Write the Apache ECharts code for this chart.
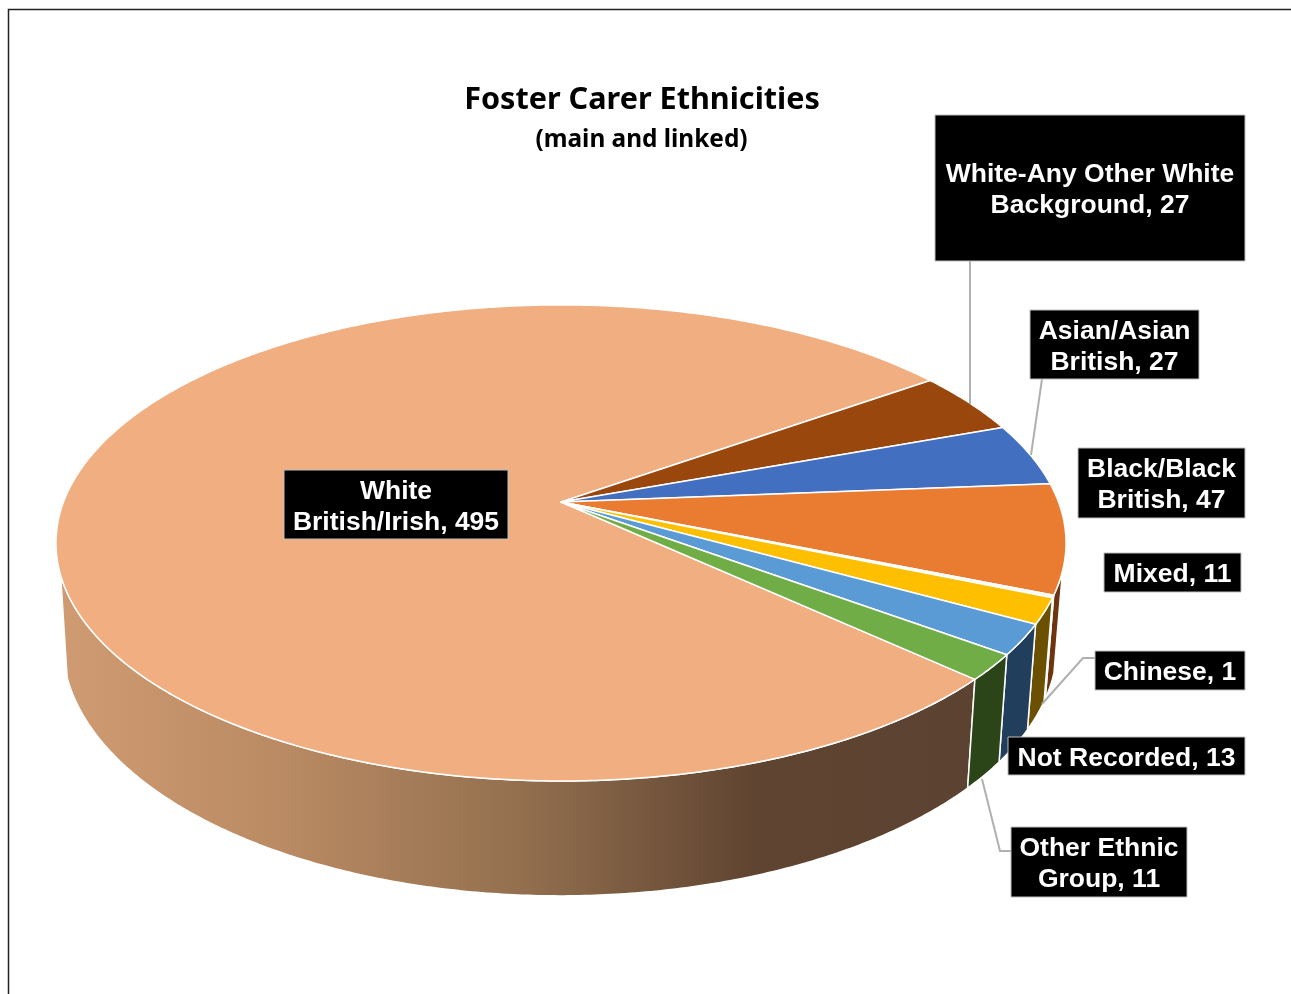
<!DOCTYPE html>
<html>
<head>
<meta charset="utf-8">
<style>html,body{margin:0;padding:0;background:#fff}#c{width:1291px;height:994px}</style>
<script src="https://cdn.jsdelivr.net/npm/echarts@6/dist/echarts.min.js"></script>
</head>
<body>
<div id="c"></div>
<script>
// ---- data ----
const categories = ['White\nBritish/Irish', 'White-Any Other White\nBackground', 'Asian/Asian\nBritish', 'Black/Black\nBritish', 'Chinese', 'Mixed', 'Not Recorded', 'Other Ethnic\nGroup'];
const values = [495, 27, 27, 47, 1, 11, 13, 11];
const titleText = 'Foster Carer Ethnicities';
const subtitleText = '(main and linked)';

// ---- styles ----
const topColors = ['#F1AE80', '#9A470E', '#426FC0', '#E97C31', '#F4F4F4', '#FDBF00', '#5B9BD5', '#70AD47'];
const sideColors = [null, '#4f2407', '#223a63', '#6E3410', '#FFFFFF', '#6A5000', '#213F5C', '#2B4519'];

// ---- layout ----
const startPhi = 132.7;                 // clockwise from the top of the disc
const visPhi = [106.5, 252.5];          // part of the rim that faces the viewer
const persp = 0.172;
const topFace = {cx: 561, cy: 502, a: 497.5, b: 231};
const botFace = {cx: 560, cy: 600, a: 490, b: 245};
const boxes = [
  {x: 284, y: 470, w: 224, h: 69},
  {x: 935, y: 115, w: 310, h: 146, leader: [[970, 261], [970, 404]]},
  {x: 1030, y: 310, w: 169, h: 69, leader: [[1042, 379], [1031, 455]]},
  {x: 1078, y: 448, w: 167, h: 70},
  {x: 1095, y: 651, w: 150, h: 39, leader: [[1095, 658], [1083, 658], [1042, 704]]},
  {x: 1104, y: 553, w: 137, h: 39},
  {x: 1008, y: 737, w: 237, h: 38},
  {x: 1011, y: 827, w: 176, h: 70, leader: [[982, 779], [1000, 851], [1011, 851]]}
];

const total = values.reduce((s, v) => s + v, 0);
function sliceRange(i) {
  let sum = 0;
  for (let k = 0; k < i; k++) sum += values[k];
  return [startPhi + sum / total * 360, startPhi + (sum + values[i]) / total * 360];
}
function project(face, phiDeg) {
  const p = phiDeg * Math.PI / 180, u = Math.sin(p), v = Math.cos(p), w = 1 + persp * v;
  return [face.cx + face.a * u / w, face.cy - face.b * v / w];
}
function arc(face, from, to) {
  const n = Math.max(2, Math.ceil(Math.abs(to - from) * 2)), pts = [];
  for (let i = 0; i <= n; i++) pts.push(project(face, from + (to - from) * i / n));
  return pts;
}
function visibleRange(r) {
  // a slice may wrap past 360 degrees; test both windows
  for (const off of [0, 360]) {
    const a = Math.max(r[0], visPhi[0] + off), b = Math.min(r[1], visPhi[1] + off);
    if (b > a) return [a, b];
  }
  return null;
}
const peachSide = new echarts.graphic.LinearGradient(58, 0, 975, 0, [
  {offset: 0, color: '#D09B72'},
  {offset: 0.25, color: '#B98A63'},
  {offset: 0.5, color: '#94704F'},
  {offset: 0.76, color: '#5F4431'},
  {offset: 1, color: '#5C4231'}
], true);

const chart = echarts.init(document.getElementById('c'), null, {renderer: 'canvas'});
chart.setOption({
  animation: false,
  backgroundColor: '#fff',
  title: [
    {text: titleText, left: 637, top: 80, textAlign: 'center',
     textStyle: {fontFamily: 'Noto Sans', fontWeight: 'bold', fontSize: 30.6, color: '#000'}},
    {text: subtitleText, left: 636.5, top: 123, textAlign: 'center',
     textStyle: {fontFamily: 'Noto Sans', fontWeight: 'bold', fontSize: 24.4, color: '#000'}}
  ],
  graphic: [
    {type: 'polyline', silent: true, shape: {points: [[8.5, 994], [8.5, 9.5], [1291, 9.5]]},
     style: {stroke: '#222', lineWidth: 1.5, fill: null}}
  ],
  series: [
    {
      name: 'sides', type: 'custom', coordinateSystem: 'none', silent: true, data: values, z: 1,
      renderItem(params) {
        const i = params.dataIndex, vis = visibleRange(sliceRange(i));
        if (!vis) return {type: 'group', children: []};
        const pts = arc(topFace, vis[0], vis[1]).concat(arc(botFace, vis[1], vis[0]));
        return {type: 'polygon', shape: {points: pts},
          style: {fill: sideColors[i] || peachSide, stroke: '#fff', lineWidth: 1.5, lineJoin: 'round'}};
      }
    },
    {
      name: 'tops', type: 'custom', coordinateSystem: 'none', silent: true, data: values, z: 2,
      renderItem(params) {
        const i = params.dataIndex, r = sliceRange(i);
        const pts = [[topFace.cx, topFace.cy]].concat(arc(topFace, r[0], r[1]));
        return {type: 'polygon', shape: {points: pts},
          style: {fill: topColors[i], stroke: '#fff', lineWidth: 1.5, lineJoin: 'round'}};
      }
    },
    {
      name: 'labels', type: 'custom', coordinateSystem: 'none', silent: true, data: values, z: 3,
      renderItem(params) {
        const i = params.dataIndex, box = boxes[i], children = [];
        if (box.leader) children.push({type: 'polyline', z2: 1, shape: {points: box.leader},
          style: {stroke: '#B0B0B0', lineWidth: 2, fill: null}});
        children.push({type: 'rect', z2: 2, shape: {x: box.x, y: box.y, width: box.w, height: box.h},
          style: {fill: '#000', stroke: '#BDBDBD', lineWidth: 1}});
        children.push({type: 'text', z2: 3, x: box.x + box.w / 2, y: box.y + box.h / 2 + 2.5,
          style: {text: categories[i] + ', ' + values[i], fill: '#fff', align: 'center', verticalAlign: 'middle',
            font: 'bold 26.5px "Liberation Sans"', lineHeight: 31}});
        return {type: 'group', children};
      }
    }
  ]
});
</script>
</body>
</html>
